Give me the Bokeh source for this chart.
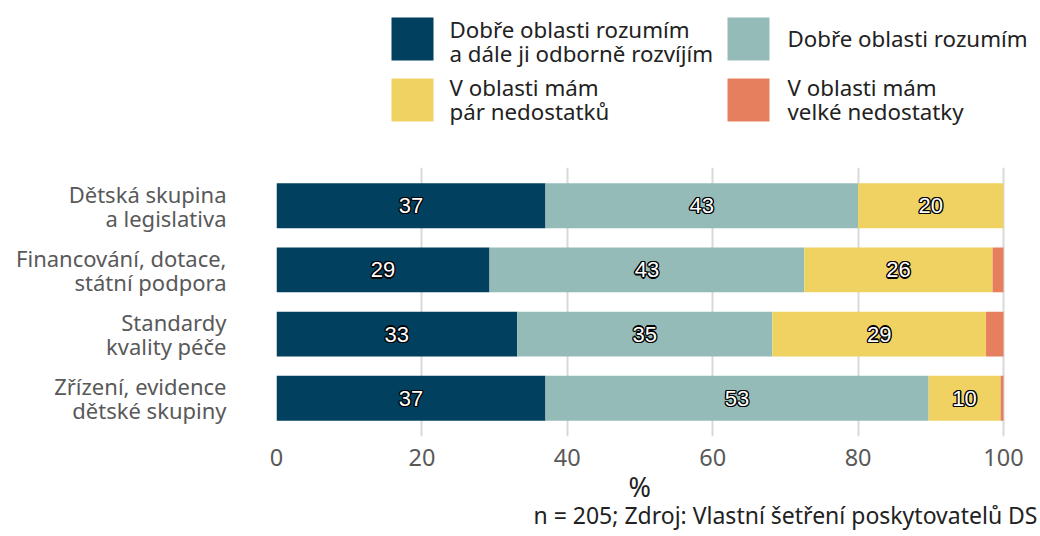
from bokeh.plotting import figure
from bokeh.models import FactorRange, Range1d, ColumnDataSource, FixedTicker, Title
from bokeh.layouts import column
from bokeh.core.properties import value
from bokeh.embed import file_html
from bokeh.resources import INLINE

categories = ["Dětská skupina\na legislativa", "Financování, dotace,\nstátní podpora",
              "Standardy\nkvality péče", "Zřízení, evidence\ndětské skupiny"]
series_names = ["Dobře oblasti rozumím\na dále ji odborně rozvíjím", "Dobře oblasti rozumím",
                "V oblasti mám\npár nedostatků", "V oblasti mám\nvelké nedostatky"]
dark = [37.0, 29.3, 33.1, 37.0]
teal = [43.0, 43.3, 35.1, 52.7]
yellow = [20.0, 25.9, 29.4, 9.9]
red = [0.0, 1.5, 2.4, 0.4]
colors = ["#02405f", "#95bbb9", "#f0d262", "#e67f5e"]
x_ticks = [0, 20, 40, 60, 80, 100]
axis_title = "%"
caption = "n = 205; Zdroj: Vlastní šetření poskytovatelů DS"

FONT = "Noto Sans"
W = 1040
FL = 276                      # frame left (px)
FW = 761                      # frame width (px): 0..100 spans 727 px, rest is blank room
PX = 727 / 100                # px per percent
LH = 150                      # legend strip height
TOP, FH = 17, 269
MH = 536 - LH                 # main figure height
BOT = MH - TOP - FH

# ---------- legend strip ----------
lg = figure(width=W, height=LH, frame_width=FW, frame_height=LH,
            x_range=Range1d(FL, FL + FW), y_range=Range1d(LH, 0),
            output_backend="svg", toolbar_location=None,
            min_border_left=FL, min_border_right=W - FL - FW, min_border_top=0,
            min_border_bottom=0, outline_line_color=None)
lg.axis.visible = False
lg.grid.visible = False
sq_x = [412, 748, 412, 748]
sq_y = [38.5, 38.5, 99.5, 99.5]
tx_x = [449, 787, 449, 787]
tx_y = [41, 38, 99, 99]
lg.rect(x=sq_x, y=sq_y, width=42, height=43, fill_color=colors, line_color=None)
lg.text(x=tx_x, y=tx_y, text=series_names, text_font=value(FONT), text_font_size="22.3px",
        text_color="#222222", text_baseline="middle", text_align="left",
        text_line_height=0.79)

# ---------- main chart ----------
y_factors = list(reversed(categories))
p = figure(width=W, height=MH, frame_width=FW, frame_height=FH,
           y_range=FactorRange(factors=y_factors, range_padding=0.094,
                               range_padding_units="absolute"),
           x_range=Range1d(0, FW / PX),
           output_backend="svg", toolbar_location=None,
           min_border_left=FL, min_border_right=W - FL - FW, min_border_top=TOP,
           min_border_bottom=BOT, outline_line_color=None)

stack_keys = ["dark", "teal", "yellow", "red"]
src = ColumnDataSource(dict(cat=categories, dark=dark, teal=teal, yellow=yellow, red=red))
p.hbar_stack(stack_keys, y="cat", height=0.7, color=colors, line_color=None, source=src)

# value labels (white with black halo)
lx, ly, lt = [], [], []
for i, c in enumerate(categories):
    left = 0.0
    for vals in (dark, teal, yellow, red):
        v = vals[i]
        if v >= 5:
            lx.append(left + v / 2)
            ly.append(c)
            lt.append(f"{round(v):d}")
        left += v
lsrc = ColumnDataSource(dict(x=lx, y=ly, t=lt))
for dx, dy in [(-1.3, 0), (1.3, 0), (0, -1.3), (0, 1.3), (-1, -1), (1, 1), (-1, 1), (1, -1)]:
    p.text(x="x", y="y", text="t", source=lsrc, x_offset=dx, y_offset=dy,
           text_font=value("Liberation Sans"), text_font_size="22px",
           text_color="black", text_align="center", text_baseline="middle")
p.text(x="x", y="y", text="t", source=lsrc, text_font=value("Liberation Sans"),
       text_font_size="22px", text_color="white", text_align="center",
       text_baseline="middle")

p.ygrid.visible = False
p.xgrid.ticker = FixedTicker(ticks=x_ticks)
p.xgrid.grid_line_color = "#d9d9d9"
p.xgrid.grid_line_width = 2

p.xaxis.ticker = FixedTicker(ticks=x_ticks)
p.xaxis.axis_line_color = None
p.xaxis.major_tick_line_color = None
p.xaxis.minor_tick_line_color = None
p.xaxis.major_tick_out = 0
p.xaxis.major_tick_in = 0
p.xaxis.minor_tick_out = 0
p.xaxis.major_label_standoff = 12
p.xaxis.major_label_text_font = FONT
p.xaxis.major_label_text_font_size = "23.5px"
p.xaxis.major_label_text_color = "#595959"

p.yaxis.axis_line_color = None
p.yaxis.major_tick_line_color = None
p.yaxis.minor_tick_line_color = None
p.yaxis.major_tick_out = 0
p.yaxis.major_tick_in = 0
p.yaxis.major_label_standoff = 50
p.yaxis.major_label_text_font = FONT
p.yaxis.major_label_text_font_size = "22px"
p.yaxis.major_label_text_color = "#595959"
p.yaxis.major_label_text_line_height = 0.8

# "%" centred under the 0..100 span, caption flush right
p.add_layout(Title(text=axis_title, align="left", offset=727 / 2 - 11.5, standoff=-6,
                   text_font=FONT, text_font_size="27px", text_font_style="normal",
                   text_color="#222222"), "below")
p.add_layout(Title(text=caption, align="right", offset=0, standoff=-10, text_font=FONT,
                   text_font_size="23px", text_font_style="normal",
                   text_color="#222222"), "below")

layout = column(lg, p, spacing=0)
open("out.html", "w").write(file_html(layout, INLINE))
